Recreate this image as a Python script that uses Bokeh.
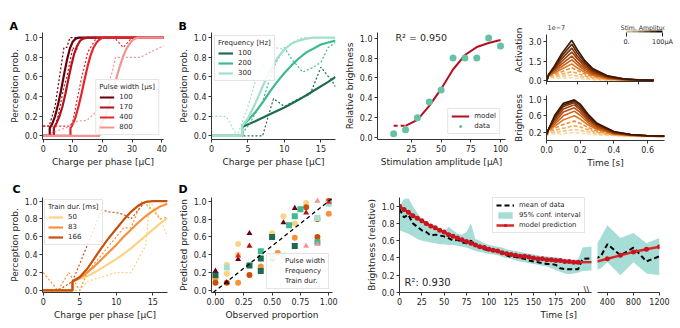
from bokeh.plotting import figure
from bokeh.layouts import row, column
from bokeh.models import (Range1d, FixedTicker, Label, Legend, LegendItem, ColorBar, Title,
                          LinearColorMapper, ColumnDataSource, Slope, NumeralTickFormatter,
                          CustomJSTickFormatter)
from bokeh.embed import file_html
from bokeh.resources import INLINE

FONT = "DejaVu Sans"
INK = "#262626"

# ---------------- data: panel A (pulse width) ----------------
a_labels = ["100", "170", "400", "800"]
a_colors = ["#67000d", "#b2121b", "#e3262b", "#f19494"]
a100_mx = [0, 2.2, 2.2, 3, 4, 5, 6, 7, 8, 9, 10, 11, 12, 14, 42]
a100_my = [0, 0, 0.08, 0.12, 0.2, 0.32, 0.46, 0.62, 0.77, 0.89, 0.96, 0.99, 1.0, 1.0, 1.0]
a170_mx = [0, 3.6, 3.6, 4.5, 5.5, 6.5, 7.5, 8.5, 9.5, 10.5, 11.5, 12.5, 13.5, 15, 42]
a170_my = [0, 0, 0.08, 0.13, 0.2, 0.3, 0.43, 0.58, 0.72, 0.84, 0.92, 0.97, 0.99, 1.0, 1.0]
a400_mx = [0, 9.2, 9.2, 10, 11, 12, 13, 14, 15, 16, 17, 18, 19, 20, 42]
a400_my = [0, 0, 0.08, 0.12, 0.2, 0.31, 0.44, 0.58, 0.71, 0.82, 0.9, 0.95, 0.98, 1.0, 1.0]
a800_mx = [0, 19, 19, 20, 21, 22, 23, 24, 25, 26, 27, 28, 29, 30, 31, 32, 42]
a800_my = [0, 0, 0.1, 0.14, 0.21, 0.3, 0.4, 0.51, 0.62, 0.72, 0.81, 0.88, 0.93, 0.97, 0.99, 1.0, 1.0]
a100_dx = [0, 2, 3, 4, 5, 6, 7, 8, 9, 10, 42]
a100_dy = [0.1, 0.1, 0.2, 0.3, 0.5, 0.7, 0.9, 0.9, 1.0, 1.0, 1.0]
a170_dx = [0, 3, 4, 5, 6, 7, 8, 9, 10, 11, 12, 13, 42]
a170_dy = [0, 0, 0.1, 0.2, 0.35, 0.5, 0.6, 0.75, 0.9, 0.85, 0.95, 1.0, 1.0]
a400_dx = [0, 9, 10, 11, 12, 13, 14, 15, 16, 17, 18, 24, 27, 30, 42]
a400_dy = [0.1, 0.1, 0.15, 0.3, 0.45, 0.6, 0.72, 0.85, 0.9, 0.95, 1.0, 1.0, 0.9, 1.0, 1.0]
a800_dx = [0, 9.2, 11.4, 14.8, 17.7, 19.3, 21.6, 23.3, 24.4, 28, 32.8, 36, 40.8]
a800_dy = [0, 0.1, 0.15, 0.16, 0.24, 0.34, 0.5, 0.65, 0.8, 0.8, 0.8, 0.85, 0.92]

# ---------------- data: panel B (frequency) ----------------
b_labels = ["100", "200", "300"]
b_colors = ["#1d6b52", "#3dbb8f", "#a3e0cb"]
b100_mx = [0, 4.2, 4.2, 6, 8, 10, 12, 14, 16, 17]
b100_my = [0, 0, 0.09, 0.15, 0.22, 0.29, 0.37, 0.46, 0.55, 0.6]
b200_mx = [0, 4.2, 4.2, 5, 6, 7, 8, 9, 10, 11, 12, 13, 14, 15, 16, 17]
b200_my = [0, 0, 0.1, 0.16, 0.24, 0.34, 0.45, 0.55, 0.64, 0.72, 0.79, 0.85, 0.89, 0.93, 0.95, 0.97]
b300_mx = [0, 4.2, 4.2, 5, 6, 7, 8, 9, 10, 11, 12, 13, 14, 15, 17]
b300_my = [0, 0, 0.1, 0.18, 0.33, 0.5, 0.66, 0.79, 0.88, 0.94, 0.97, 0.99, 1.0, 1.0, 1.0]
b100_dx = [0, 4, 7, 8.5, 10, 12, 13.5, 15, 16.6, 17]
b100_dy = [0, 0, 0, 0.38, 0.3, 0.38, 0.42, 0.7, 0.55, 0.5]
b200_dx = [0, 4, 5, 7, 8.5, 10, 11, 12.5, 14, 15, 16, 17]
b200_dy = [0, 0, 0.1, 0.35, 0.7, 0.9, 0.78, 0.65, 0.7, 0.75, 0.9, 0.95]
b300_dx = [0, 2, 3.5, 5, 6, 7.5, 8.5, 10, 11, 12.5, 14, 17]
b300_dy = [0.2, 0.2, 0.0, 0.3, 0.55, 0.8, 0.9, 0.88, 0.95, 1.0, 1.0, 1.0]

# ---------------- data: panel C (train duration) ----------------
c_labels = ["50", "83", "166"]
c_colors = ["#fcd383", "#f7923a", "#c8500a"]
c_mx = [0, 4, 4, 5, 6, 7, 8, 9, 10, 11, 12, 13, 14, 15, 16, 17]
c50_my = [0, 0, 0.1, 0.13, 0.16, 0.2, 0.25, 0.3, 0.35, 0.41, 0.47, 0.54, 0.61, 0.68, 0.75, 0.81]
c83_my = [0, 0, 0.1, 0.14, 0.2, 0.27, 0.35, 0.43, 0.51, 0.6, 0.68, 0.76, 0.83, 0.89, 0.94, 0.97]
c166_my = [0, 0, 0.1, 0.15, 0.24, 0.36, 0.48, 0.59, 0.69, 0.79, 0.88, 0.95, 0.99, 1.0, 1.0, 1.0]
c50_dx = [0, 4, 5, 6, 8, 10, 12, 13, 14, 14.6, 16, 17]
c50_dy = [0, 0, 0, 0.1, 0.15, 0.2, 0.2, 0.35, 0.5, 1.0, 0.8, 0.6]
c83_dx = [0, 2, 3.5, 5, 6, 8, 10, 11, 12, 13.5, 15, 16, 17]
c83_dy = [0.2, 0, 0.2, 0, 0.2, 0.4, 0.6, 0.7, 0.7, 1.0, 0.9, 0.8, 0.82]
c166_dx = [0, 2, 3, 4, 5, 6, 7, 8, 9, 10, 11, 12, 13, 14, 17]
c166_dy = [0, 0, 0.05, 0.1, 0.3, 0.5, 0.7, 0.9, 0.88, 0.87, 0.85, 0.8, 0.9, 1.0, 1.0]

# ---------------- data: panel D (observed vs predicted) ----------------
d_pw_obs = [0.0, 0.1, 0.2, 0.2, 0.3, 0.3, 0.6, 0.7, 0.8, 0.8, 0.9, 0.9, 1.0]
d_pw_pred = [0.22, 0.09, 0.35, 0.39, 0.64, 0.50, 0.76, 0.92, 0.87, 0.50, 1.0, 0.52, 0.99]
d_pw_grp = [0, 0, 0, 2, 0, 1, 0, 0, 1, 3, 3, 3, 2]
d_fr_obs = [0.0, 0.1, 0.3, 0.4, 0.4, 0.4, 0.5, 0.5, 0.6, 0.65, 0.7, 0.7, 0.75, 0.9, 0.9, 1.0]
d_fr_pred = [0.175, 0.26, 0.28, 0.44, 0.36, 0.22, 0.6, 0.38, 0.39, 0.73, 0.83, 0.5, 0.91, 0.81, 0.54, 0.97]
d_fr_grp = [0, 2, 0, 1, 0, 0, 0, 2, 2, 1, 1, 0, 1, 2, 1, 2]
d_td_obs = [0.0, 0.0, 0.1, 0.1, 0.1, 0.2, 0.2, 0.2, 0.3, 0.4, 0.5, 0.5, 0.55, 0.6, 0.7, 0.7, 0.8, 0.8, 0.9, 0.9, 1.0, 1.0]
d_td_pred = [0.14, 0.09, 0.29, 0.19, 0.09, 0.52, 0.40, 0.09, 0.175, 0.27, 0.64, 0.36, 0.42, 0.83, 0.59, 0.75, 0.98, 0.93, 0.8, 0.6, 1.0, 0.86]
d_td_grp = [1, 2, 0, 0, 2, 0, 0, 1, 2, 1, 0, 2, 1, 0, 1, 0, 0, 2, 2, 2, 2, 1]

# ---------------- data: amplitude vs brightness ----------------
amp_x = [10, 20, 30, 40, 50, 60, 70, 80, 90, 100]
amp_data = [0.04, 0.08, 0.2, 0.36, 0.48, 0.8, 0.8, 0.8, 1.0, 0.92]
amp_model_low_x = [10, 20]
amp_model_low_y = [0.12, 0.12]
amp_model_x = [20, 30, 40, 50, 60, 70, 80, 90, 100]
amp_model_y = [0.12, 0.18, 0.32, 0.49, 0.685, 0.83, 0.91, 0.95, 0.98]

# ---------------- data: activation / brightness time courses ----------------
tc_t = [0, 0.015, 0.05, 0.1, 0.165, 0.2, 0.25, 0.3, 0.4, 0.5, 0.6, 0.7]
act_100 = [0, 0.5, 1.1, 2.1, 3.1, 2.4, 1.55, 0.95, 0.38, 0.16, 0.08, 0.04]
act_90 = [0, 0.5, 1.0, 1.9, 2.8, 2.15, 1.4, 0.85, 0.34, 0.15, 0.07, 0.04]
act_80 = [0, 0.5, 0.95, 1.7, 2.5, 1.9, 1.25, 0.76, 0.3, 0.13, 0.07, 0.04]
act_70 = [0, 0.5, 0.9, 1.5, 2.2, 1.7, 1.1, 0.67, 0.27, 0.12, 0.06, 0.03]
act_60 = [0, 0.45, 0.8, 1.3, 1.9, 1.45, 0.95, 0.58, 0.23, 0.1, 0.05, 0.03]
act_50 = [0, 0.45, 0.7, 1.1, 1.6, 1.25, 0.8, 0.5, 0.2, 0.09, 0.05, 0.03]
act_40 = [0, 0.4, 0.6, 0.9, 1.3, 1.0, 0.66, 0.41, 0.17, 0.08, 0.04, 0.02]
act_30 = [0, 0.4, 0.5, 0.7, 1.0, 0.8, 0.52, 0.33, 0.14, 0.07, 0.04, 0.02]
act_20 = [0, 0.35, 0.4, 0.5, 0.7, 0.57, 0.38, 0.24, 0.1, 0.05, 0.03, 0.02]
act_10 = [0, 0.3, 0.3, 0.35, 0.45, 0.37, 0.25, 0.16, 0.07, 0.04, 0.02, 0.01]
act_5 = [0, 0.25, 0.2, 0.2, 0.25, 0.2, 0.14, 0.09, 0.04, 0.02, 0.01, 0.01]
bri_100 = [0.15, 0.3, 0.62, 0.9, 0.98, 0.88, 0.62, 0.42, 0.22, 0.15, 0.12, 0.11]
bri_90 = [0.15, 0.3, 0.58, 0.86, 0.95, 0.84, 0.58, 0.4, 0.21, 0.15, 0.12, 0.11]
bri_80 = [0.15, 0.3, 0.55, 0.82, 0.91, 0.79, 0.55, 0.38, 0.2, 0.14, 0.12, 0.11]
bri_70 = [0.15, 0.3, 0.5, 0.76, 0.86, 0.74, 0.51, 0.35, 0.19, 0.14, 0.12, 0.11]
bri_60 = [0.15, 0.3, 0.45, 0.69, 0.79, 0.68, 0.47, 0.33, 0.18, 0.14, 0.12, 0.11]
bri_50 = [0.15, 0.28, 0.4, 0.6, 0.71, 0.61, 0.42, 0.3, 0.17, 0.13, 0.11, 0.11]
bri_40 = [0.15, 0.27, 0.35, 0.5, 0.6, 0.52, 0.37, 0.27, 0.16, 0.13, 0.11, 0.1]
bri_30 = [0.14, 0.25, 0.3, 0.39, 0.47, 0.42, 0.31, 0.23, 0.15, 0.12, 0.11, 0.1]
bri_20 = [0.13, 0.23, 0.25, 0.3, 0.36, 0.33, 0.26, 0.2, 0.14, 0.12, 0.11, 0.1]
bri_10 = [0.12, 0.2, 0.2, 0.23, 0.27, 0.25, 0.21, 0.17, 0.13, 0.11, 0.1, 0.1]
bri_5 = [0.11, 0.17, 0.16, 0.17, 0.2, 0.18, 0.16, 0.14, 0.12, 0.11, 0.1, 0.1]
tc_colors = ["#3b1604", "#5c2306", "#7d3108", "#9a3f0a", "#b54d0d", "#cc5f14",
             "#de7622", "#ea9038", "#f2aa55", "#f7c47a", "#fbdca3"]
cbar_palette = ["#c9bb96", "#ae9a74", "#8f7453", "#6a4c30", "#402712", "#1c0c02"]

# ---------------- data: brightness over time ----------------
e_t = [0, 5, 10, 15, 20, 25, 30, 35, 40, 45, 50, 55, 60, 65, 70, 75, 80, 85, 90, 95, 100,
       105, 110, 115, 120, 125, 130, 135, 140, 145, 150, 155, 160, 165, 170, 175, 180,
       185, 190, 195, 200, 205, 300, 400, 600, 800, 1000, 1200]
e_mean = [0.97, 0.87, 0.90, 0.80, 0.76, 0.72, 0.70, 0.66, 0.67, 0.66, 0.65, 0.63, 0.60, 0.61,
          0.58, 0.57, 0.60, 0.55, 0.52, 0.50, 0.49, 0.49, 0.47, 0.46, 0.43, 0.41, 0.41, 0.40,
          0.39, 0.37, 0.36, 0.35, 0.34, 0.33, 0.33, 0.32, 0.28, 0.27, 0.27, 0.27, 0.27,
          0.39, 0.42, 0.56, 0.43, 0.52, 0.36, 0.42]
e_hi = [1.0, 1.08, 1.09, 1.0, 0.92, 0.85, 0.8, 0.75, 0.73, 0.72, 0.70, 0.76, 0.72, 0.68,
        0.67, 0.7, 0.8, 0.62, 0.6, 0.57, 0.55, 0.54, 0.53, 0.52, 0.5, 0.49, 0.48, 0.47,
        0.46, 0.45, 0.44, 0.43, 0.42, 0.42, 0.41, 0.41, 0.40, 0.39, 0.38, 0.38, 0.38,
        0.52, 0.64, 0.78, 0.63, 0.69, 0.57, 0.63]
e_lo = [0.72, 0.7, 0.68, 0.65, 0.62, 0.6, 0.59, 0.58, 0.57, 0.56, 0.56, 0.55, 0.55, 0.54,
        0.53, 0.52, 0.5, 0.48, 0.47, 0.46, 0.45, 0.44, 0.43, 0.41, 0.40, 0.39, 0.37, 0.36,
        0.35, 0.34, 0.33, 0.32, 0.31, 0.3, 0.28, 0.26, 0.24, 0.22, 0.21, 0.22, 0.23,
        0.25, 0.28, 0.35, 0.2, 0.35, 0.22, 0.2]
e_model_t = [0, 5, 10, 15, 20, 25, 30, 35, 40, 45, 50, 55, 60, 65, 70, 75, 80, 85, 90, 95, 100,
             105, 110, 115, 120, 125, 130, 135, 140, 145, 150, 155, 160, 165, 170, 175, 180,
             185, 190, 195, 200, 400, 600, 800, 1000, 1200]
e_model = [1.00, 0.96, 0.93, 0.89, 0.86, 0.83, 0.80, 0.77, 0.75, 0.72, 0.70, 0.67, 0.65, 0.63,
           0.61, 0.59, 0.57, 0.55, 0.53, 0.52, 0.50, 0.49, 0.48, 0.46, 0.45, 0.44, 0.43, 0.42,
           0.42, 0.41, 0.40, 0.39, 0.39, 0.38, 0.38, 0.37, 0.37, 0.36, 0.36, 0.35, 0.35,
           0.39, 0.43, 0.47, 0.50, 0.53]

unit_ticks = [0, 0.2, 0.4, 0.6, 0.8, 1.0]
DOT = "2 2"


# ---------------- helpers ----------------
def make_fig(width, height, xr, yr, left, right, top, bottom, xticks, yticks,
             xlabel=None, ylabel=None, xfmt=None, yfmt="0.0"):
    p = figure(width=width, height=height,
               x_range=xr if isinstance(xr, Range1d) else Range1d(*xr),
               y_range=yr if isinstance(yr, Range1d) else Range1d(*yr),
               output_backend="svg", toolbar_location=None,
               min_border_left=left, min_border_right=right,
               min_border_top=top, min_border_bottom=bottom)
    p.outline_line_color = None
    p.xgrid.visible = False
    p.ygrid.visible = False
    p.background_fill_color = "white"
    p.border_fill_color = "white"
    p.title.standoff = 0
    p.title.text_font = FONT
    p.title.text_font_size = "11px"
    p.title.text_font_style = "bold"
    p.title.text_color = "black"
    p.title.align = "left"
    for ax in (p.xaxis[0], p.yaxis[0]):
        ax.axis_line_color = "#333333"
        ax.major_tick_line_color = "#333333"
        ax.major_tick_in = 0
        ax.major_tick_out = 3
        ax.minor_tick_line_color = None
        ax.major_label_text_font = FONT
        ax.major_label_text_font_size = "8px"
        ax.major_label_text_color = INK
        ax.major_label_standoff = 2
        ax.axis_label_text_font = FONT
        ax.axis_label_text_font_size = "9px"
        ax.axis_label_text_font_style = "normal"
        ax.axis_label_text_color = INK
        ax.axis_label_standoff = 2
    p.xaxis.ticker = FixedTicker(ticks=xticks)
    p.yaxis.ticker = FixedTicker(ticks=yticks)
    if xfmt:
        p.xaxis.formatter = NumeralTickFormatter(format=xfmt)
    if yfmt:
        p.yaxis.formatter = NumeralTickFormatter(format=yfmt)
    if xlabel:
        p.xaxis.axis_label = xlabel
    if ylabel:
        p.yaxis.axis_label = ylabel
    return p


def set_letter(p, letter, offset, standoff):
    p.title.text = letter
    p.title.offset = offset
    p.title.standoff = standoff


def add_text(p, x, y, text, size, align="left", bold=False):
    p.add_layout(Label(x=x, y=y, x_units="screen", y_units="screen", text=text,
                       text_font=FONT, text_font_size=size, text_align=align,
                       text_baseline="middle", text_color=INK,
                       text_font_style="bold" if bold else "normal"))


def add_legend(p, items, loc, title=None, glyph_w=15, margin=0, size="7px"):
    leg = Legend(items=items, location=loc, margin=margin, padding=3, spacing=2,
                 label_text_font=FONT, label_text_font_size=size, label_text_color=INK,
                 label_height=8, glyph_height=8, glyph_width=glyph_w, label_standoff=5,
                 border_line_color="#cccccc", border_line_width=1,
                 background_fill_color="white", background_fill_alpha=0.85)
    if title:
        leg.title = title
        leg.title_text_font = FONT
        leg.title_text_font_size = size
        leg.title_text_font_style = "normal"
        leg.title_text_color = INK
        leg.title_standoff = 2
    p.add_layout(leg)


# ---------------- panel A ----------------
pA = make_fig(170, 170, (-0.24, 40.6), (-0.036, 1.052), 42, 7, 28, 31,
              [0, 10, 20, 30, 40], unit_ticks, "Charge per phase [μC]", "Perception prob.")
itemsA = []
for mx, my, dx, dy, col, lab in [(a100_mx, a100_my, a100_dx, a100_dy, a_colors[0], a_labels[0]),
                                  (a170_mx, a170_my, a170_dx, a170_dy, a_colors[1], a_labels[1]),
                                  (a400_mx, a400_my, a400_dx, a400_dy, a_colors[2], a_labels[2]),
                                  (a800_mx, a800_my, a800_dx, a800_dy, a_colors[3], a_labels[3])]:
    pA.line(dx, dy, line_color=col, line_width=1.2, line_dash=DOT)
    r = pA.line(mx, my, line_color=col, line_width=2.2)
    itemsA.append(LegendItem(label=lab, renderers=[r]))
add_legend(pA, itemsA, "bottom_right", "Pulse width [μs]", margin=4)
set_letter(pA, "A", -33, 0)

# ---------------- panel B ----------------
pB = make_fig(170, 170, (0, 17), (-0.036, 1.052), 41, 5, 28, 31,
              [0, 5, 10, 15], unit_ticks, "Charge per phase [μC]", "Perception prob.")
itemsB = []
for mx, my, dx, dy, col, lab in [(b100_mx, b100_my, b100_dx, b100_dy, b_colors[0], b_labels[0]),
                                  (b200_mx, b200_my, b200_dx, b200_dy, b_colors[1], b_labels[1]),
                                  (b300_mx, b300_my, b300_dx, b300_dy, b_colors[2], b_labels[2])]:
    pB.line(dx, dy, line_color=col, line_width=1.2, line_dash=DOT)
    r = pB.line(mx, my, line_color=col, line_width=2.2)
    itemsB.append(LegendItem(label=lab, renderers=[r]))
add_legend(pB, itemsB, "top_left", "Frequency [Hz]", margin=3)
set_letter(pB, "B", -33, 0)

# ---------------- panel amplitude ----------------
pR = make_fig(170, 170, (-3.6, 104.2), (-0.017, 1.056), 37, 5, 32, 28,
              [25, 50, 75, 100], unit_ticks, "Stimulation amplitude [μA]", "Relative brightness")
pR.line(amp_model_low_x, amp_model_low_y, line_color="#b40f20", line_width=2, line_dash="4 3")
rm = pR.line(amp_model_x, amp_model_y, line_color="#b40f20", line_width=2)
rd = pR.scatter(amp_x, amp_data, marker="circle", size=7, fill_color="#66c2a5", line_color=None)
add_legend(pR, [LegendItem(label="model", renderers=[rm]), LegendItem(label="data", renderers=[rd])],
           "bottom_right", None, 18, margin=5)
add_text(pR, 18, 102, "R² = 0.950", "9.5px")

# ---------------- panel activation / brightness ----------------
pAct = make_fig(170, 88, (0, 0.769), (-0.05, 4.77), 33, 4, 18, 7,
                [0, 0.2, 0.4, 0.6], [0, 1.5, 3.0], None, "Activation")
pAct.yaxis.bounds = (-0.05, 3.55)
pAct.xaxis.bounds = (0, 0.7)
pAct.xaxis.formatter = CustomJSTickFormatter(code="return ''")
pAct.xaxis.major_label_standoff = 0
pBri = make_fig(170, 82, (0, 0.7), (0.005, 1.085), 33, 16, 7, 28,
                [0, 0.2, 0.4, 0.6], [0.2, 0.6, 1.0], "Time [s]", "Brightness", xfmt="0.0")
act_curves = [act_100, act_90, act_80, act_70, act_60, act_50, act_40, act_30, act_20, act_10, act_5]
bri_curves = [bri_100, bri_90, bri_80, bri_70, bri_60, bri_50, bri_40, bri_30, bri_20, bri_10, bri_5]
for i in reversed(range(len(act_curves))):
    dash = "4 2" if i >= 7 else "solid"
    pAct.line(tc_t, act_curves[i], line_color=tc_colors[i], line_width=1.6, line_dash=dash)
    pBri.line(tc_t, bri_curves[i], line_color=tc_colors[i], line_width=1.6, line_dash=dash)
add_text(pAct, 1, 54, "1e−7", "6.5px")
add_text(pAct, 124, 54, "Stim. Amplitude", "6.2px", "right")
cmap = LinearColorMapper(palette=cbar_palette, low=0, high=100)
cb = ColorBar(color_mapper=cmap, orientation="horizontal", width=36, height=2,
              location=(80, 33), padding=0, ticker=FixedTicker(ticks=[0, 100]),
              major_label_overrides={0: "0.", 100: "100μA"},
              major_label_text_font=FONT, major_label_text_font_size="6.5px",
              major_label_text_color=INK, label_standoff=1,
              major_tick_line_color="#222222", major_tick_in=0, major_tick_out=4,
              bar_line_color=None, border_line_color=None, background_fill_alpha=0)
pAct.add_layout(cb)
colP4 = column(pAct, pBri, spacing=0)

# ---------------- panel C ----------------
pC = make_fig(170, 158, (-0.1, 17.0), (-0.023, 1.04), 42, 3, 15, 35,
              [0, 5, 10, 15], unit_ticks, "Charge per phase [μC]", "Perception prob.")
itemsC = []
for my, dx, dy, col, lab in [(c50_my, c50_dx, c50_dy, c_colors[0], c_labels[0]),
                              (c83_my, c83_dx, c83_dy, c_colors[1], c_labels[1]),
                              (c166_my, c166_dx, c166_dy, c_colors[2], c_labels[2])]:
    pC.line(dx, dy, line_color=col, line_width=1.2, line_dash=DOT)
    r = pC.line(c_mx, my, line_color=col, line_width=2.2)
    itemsC.append(LegendItem(label=lab, renderers=[r]))
add_legend(pC, itemsC, "top_left", "Train dur. [ms]", margin=2)
set_letter(pC, "C", -30, 3)

# ---------------- panel D ----------------
pD = make_fig(170, 158, (-0.035, 1.033), (-0.02, 1.04), 41, 8, 16, 35,
              [0, 0.25, 0.5, 0.75, 1.0], unit_ticks, "Observed proportion", "Predicted proportion",
              xfmt="0.00")
pD.add_layout(Slope(gradient=1, y_intercept=0, line_color="black", line_width=1.3, line_dash="4 3"))
srcP = ColumnDataSource(dict(x=d_pw_obs, y=d_pw_pred, c=[a_colors[g] for g in d_pw_grp]))
srcF = ColumnDataSource(dict(x=d_fr_obs, y=d_fr_pred, c=[b_colors[g] for g in d_fr_grp]))
srcT = ColumnDataSource(dict(x=d_td_obs, y=d_td_pred, c=[c_colors[g] for g in d_td_grp]))
pD.scatter("x", "y", source=srcT, marker="circle", size=6, fill_color="c", line_color=None)
pD.scatter("x", "y", source=srcF, marker="square", size=6, fill_color="c", line_color=None)
pD.scatter("x", "y", source=srcP, marker="triangle", size=6, fill_color="c", line_color=None)
lt = pD.scatter([], [], marker="triangle", size=4, fill_color="black", line_color=None)
ls = pD.scatter([], [], marker="square", size=5, fill_color="black", line_color=None)
lc = pD.scatter([], [], marker="circle", size=5, fill_color="black", line_color=None)
add_legend(pD, [LegendItem(label="Pulse width", renderers=[lt]),
                LegendItem(label="Frequency", renderers=[ls]),
                LegendItem(label="Train dur.", renderers=[lc])], "bottom_right", None, 10, margin=3)
add_text(pD, 6, 101, "R²: 0.868", "10px")
set_letter(pD, "D", -33, 3)

# ---------------- panel E (broken time axis) ----------------
yrE = Range1d(0, 1.1)
pE1 = make_fig(257, 158, (0, 215), yrE, 59, 6, 27, 36,
               [0, 25, 50, 75, 100, 125, 150, 175, 200], unit_ticks, None, "Brightness (relative)")
pE2 = make_fig(83, 158, (248, 1200), yrE, 0, 21, 27, 36, [400, 800, 1200], unit_ticks)
pE2.yaxis.visible = False
for p in (pE1, pE2):
    rb = p.varea(x=e_t, y1=e_lo, y2=e_hi, fill_color="#a6ddd6", fill_alpha=1)
    rmean = p.line(e_t, e_mean, line_color="black", line_width=2, line_dash="5 3")
    rml = p.line(e_model_t, e_model, line_color="#d62828", line_width=2.5)
    rmk = p.scatter(e_model_t, e_model, marker="circle", size=5, fill_color="#c8141e", line_color=None)
    if p is pE1:
        add_legend(p, [LegendItem(label="mean of data", renderers=[rmean]),
                       LegendItem(label="95% conf. interval", renderers=[rb]),
                       LegendItem(label="model prediction", renderers=[rml, rmk])],
                   (93, 59), None, 18, size="6.8px")
add_text(pE1, 5, 10, "R²: 0.930", "10px")
add_text(pE1, 187, 3, "\\\\", "9px", "center")
pE1.add_layout(Title(text="Time [s]", align="left", offset=141, standoff=0, text_font=FONT,
                     text_font_size="9px", text_font_style="normal", text_color=INK), "below")

layout = column(row(pA, pB, pR, colP4, spacing=0),
                row(pC, pD, pE1, pE2, spacing=0), spacing=0)

open("out.html", "w").write(file_html(layout, INLINE))
